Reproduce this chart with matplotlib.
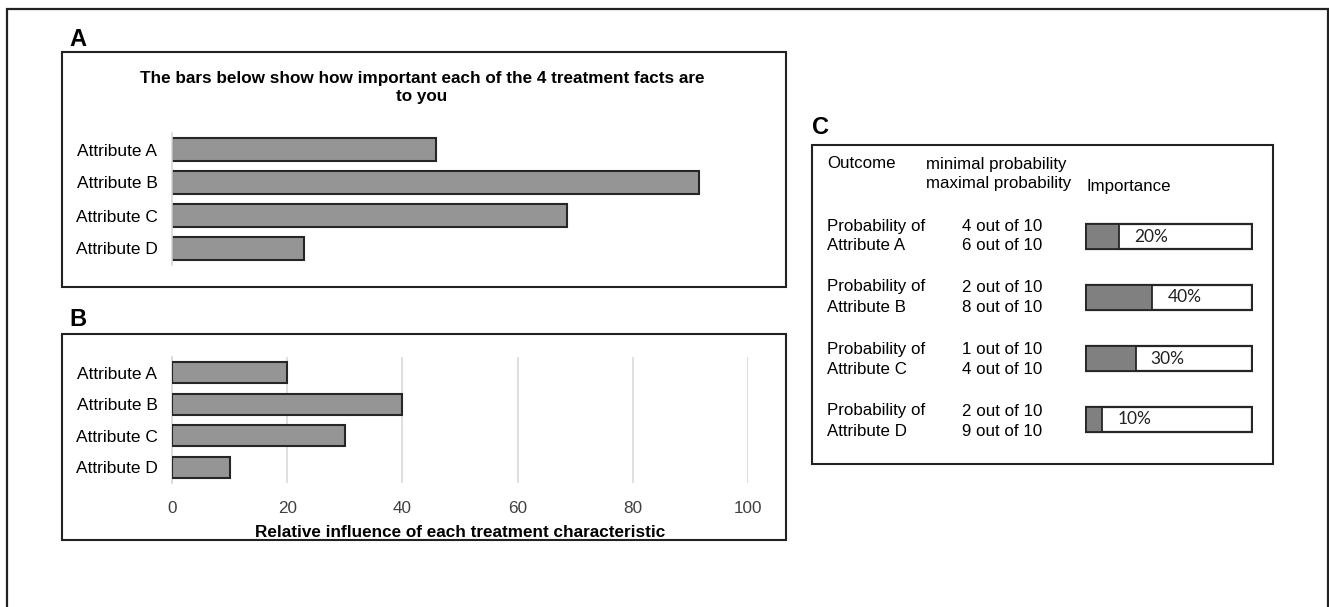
import matplotlib.pyplot as plt
from matplotlib.patches import Rectangle

plt.rcParams['font.family'] = ['Liberation Sans', 'DejaVu Sans']

# data
attributes = ['Attribute A', 'Attribute B', 'Attribute C', 'Attribute D']
importance = [20, 40, 30, 10]
min_prob = ['4 out of 10', '2 out of 10', '1 out of 10', '2 out of 10']
max_prob = ['6 out of 10', '8 out of 10', '4 out of 10', '9 out of 10']
b_ticks = [0, 20, 40, 60, 80, 100]
title_a = 'The bars below show how important each of the 4 treatment facts are\nto you'
xlabel_b = 'Relative influence of each treatment characteristic'

W, H = 1329, 607
fig = plt.figure(figsize=(W / 100, H / 100), dpi=100)


def fx(px):
    return px / W


def fy(py):
    return 1 - py / H


def rect_px(x0, y0, x1, y1):
    # pixel box -> figure fraction rect [left, bottom, width, height]
    return [fx(x0), fy(y1), (x1 - x0) / W, (y1 - y0) / H]


def frame(x0, y0, x1, y1, lw=1.5):
    fig.patches.append(Rectangle((fx(x0), fy(y1)), (x1 - x0) / W, (y1 - y0) / H,
                                 transform=fig.transFigure, fill=False,
                                 edgecolor='#222222', linewidth=lw))


bar_col = '#959595'
edge_col = '#262626'
grid_col = '#d9d9d9'

# outer frame and panel frames
frame(7, 9, 1328, 640, lw=1.6)
frame(62, 52, 786, 287)
frame(62, 334, 786, 540)
frame(812, 145, 1273, 464)

# panel letters
for lab, x, y in [('A', 69, 39), ('B', 69, 319), ('C', 812, 127)]:
    fig.text(fx(x), fy(y), lab, fontsize=17, fontweight='bold', va='center', ha='left')

# ---- panel A
axA = fig.add_axes(rect_px(172, 133, 765, 265))
axA.barh(range(len(attributes)), importance, height=0.7, color=bar_col,
         edgecolor=edge_col, linewidth=1.5)
axA.set_xlim(0, 45)
axA.set_ylim(3.5, -0.5)
axA.set_yticks(range(len(attributes)), attributes)
axA.set_xticks([])
for s in ['top', 'right', 'bottom']:
    axA.spines[s].set_visible(False)
axA.spines['left'].set_color(grid_col)
axA.spines['left'].set_linewidth(1.2)
axA.tick_params(axis='y', length=0, pad=10.5, labelsize=12.5)
fig.text(fx(422), fy(87.5), title_a, ha='center', va='center', fontsize=12.3,
         fontweight='bold', multialignment='center', linespacing=1.22)

# ---- panel B
axB = fig.add_axes(rect_px(172, 357, 748, 483))
axB.barh(range(len(attributes)), importance, height=0.68, color=bar_col,
         edgecolor=edge_col, linewidth=1.5, zorder=3)
axB.set_xlim(0, 100)
axB.set_ylim(3.5, -0.5)
axB.set_yticks(range(len(attributes)), attributes)
axB.set_xticks(b_ticks)
axB.grid(axis='x', color=grid_col, linewidth=1.2, zorder=0)
for s in ['top', 'right', 'bottom']:
    axB.spines[s].set_visible(False)
axB.spines['left'].set_color(grid_col)
axB.spines['left'].set_linewidth(1.2)
axB.tick_params(axis='y', length=0, pad=10.5, labelsize=12.5)
axB.tick_params(axis='x', length=0, pad=13, labelsize=12.3, labelcolor='#404040')
axB.set_xlabel(xlabel_b, fontsize=12.3, fontweight='bold')
axB.xaxis.set_label_coords(0.5, -0.335)

# ---- panel C
fig.text(fx(827), fy(164), 'Outcome', fontsize=12.2, va='center')
fig.text(fx(926), fy(164), 'minimal probability', fontsize=12.2, va='center')
fig.text(fx(926), fy(184), 'maximal probability', fontsize=12.2, va='center')
fig.text(fx(1087), fy(186), 'Importance', fontsize=12.2, va='center')

row_top = [226, 287, 349, 411]
for i, att in enumerate(attributes):
    y1 = row_top[i]
    fig.text(fx(827), fy(y1), 'Probability of', fontsize=12.2, va='center')
    fig.text(fx(827), fy(y1 + 20), att, fontsize=12.2, va='center')
    fig.text(fx(962), fy(y1), min_prob[i], fontsize=12.2, va='center')
    fig.text(fx(962), fy(y1 + 20), max_prob[i], fontsize=12.2, va='center')

axC = fig.add_axes(rect_px(1085, 206, 1253, 450))
n = len(attributes)
axC.barh(range(n), [100] * n, height=0.41, color='white', edgecolor=edge_col, linewidth=1.6)
axC.barh(range(n), importance, height=0.41, color='#808080', edgecolor=edge_col, linewidth=1.3)
for i, v in enumerate(importance):
    axC.text(v + 9, i, f'{v}%', va='center', ha='left', fontsize=12.5,
             family=['Lato', 'DejaVu Sans'], color='#222222')
axC.set_xlim(-0.5, 100.5)
axC.set_ylim(3.5, -0.5)
axC.axis('off')

fig.savefig('out.png', dpi=100)
